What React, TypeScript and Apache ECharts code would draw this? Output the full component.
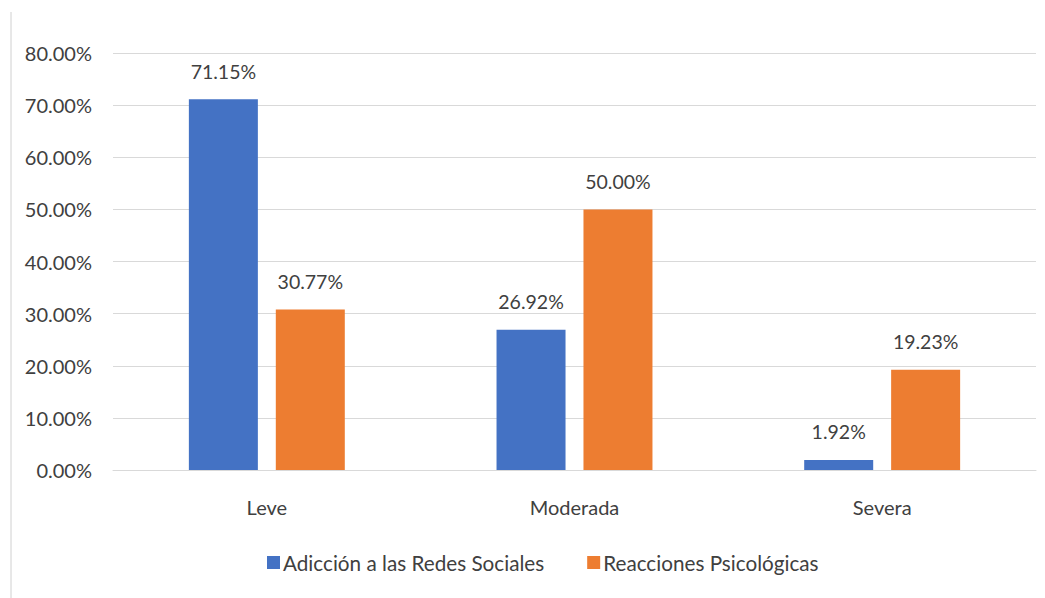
import React, { useEffect, useRef } from "react";
import * as echarts from "echarts";

const categories = ["Leve", "Moderada", "Severa"];
const seriesNames = ["Adicción a las Redes Sociales", "Reacciones Psicológicas"];
const adiccion = [71.15, 26.92, 1.92];
const reacciones = [30.77, 50.0, 19.23];
const yTicks = { min: 0, max: 80, interval: 10 };

const FONT = "Lato, 'Open Sans', sans-serif";
const TEXT = "#404040";

export default function App() {
  const ref = useRef<HTMLDivElement>(null);
  useEffect(() => {
    const chart = echarts.init(ref.current!, null, { renderer: "svg" });
    const label = {
      show: true,
      position: "top",
      distance: 18,
      color: TEXT,
      fontSize: 19.5,
      fontFamily: FONT,
      formatter: (p: any) => p.value.toFixed(2) + "%",
    };
    chart.setOption({
      animation: false,
      backgroundColor: "#ffffff",
      textStyle: { fontFamily: FONT },
      grid: { left: 113, right: 9, top: 53, bottom: 128, containLabel: false },
      legend: {
        bottom: 20,
        left: 262,
        itemWidth: 13,
        itemHeight: 13,
        itemGap: 43,
        icon: "rect",
        textStyle: { color: TEXT, fontSize: 20.7, fontFamily: FONT, padding: [0, 0, 0, -2] },
        data: seriesNames,
      },
      xAxis: {
        type: "category",
        data: categories,
        axisLine: { show: true, lineStyle: { color: "#d9d9d9" } },
        axisTick: { show: false },
        axisLabel: { color: TEXT, fontSize: 20, margin: 27, fontFamily: FONT },
      },
      yAxis: {
        type: "value",
        min: yTicks.min,
        max: yTicks.max,
        interval: yTicks.interval,
        axisLine: { show: false },
        axisTick: { show: false },
        splitLine: { lineStyle: { color: "#d9d9d9", width: 1 } },
        axisLabel: {
          color: TEXT,
          fontSize: 20,
          margin: 21,
          fontFamily: FONT,
          formatter: (v: number) => v.toFixed(2) + "%",
        },
      },
      graphic: [
        {
          type: "line",
          shape: { x1: 11, y1: 12, x2: 11, y2: 598 },
          style: { stroke: "#d0d0d0", lineWidth: 1 },
        },
      ],
      series: [
        {
          name: seriesNames[0],
          type: "bar",
          data: adiccion,
          barWidth: 69,
          barGap: "26%",
          itemStyle: { color: "#4472C4" },
          label,
        },
        {
          name: seriesNames[1],
          type: "bar",
          data: reacciones,
          barWidth: 69,
          itemStyle: { color: "#ED7D31" },
          label,
        },
      ],
    });
    return () => chart.dispose();
  }, []);
  return (
    <div
      ref={ref}
      style={{ position: "fixed", left: 0, top: 0, width: 1045, height: 598 }}
    />
  );
}
